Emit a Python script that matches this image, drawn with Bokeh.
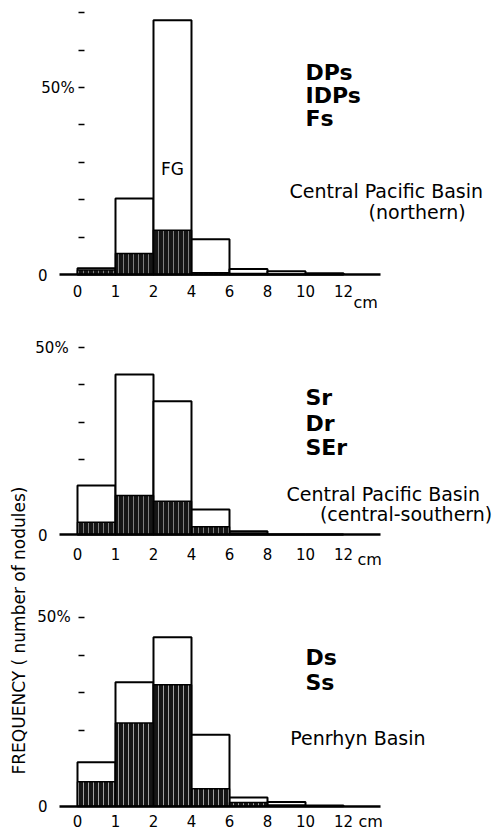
import math
from bokeh.plotting import figure
from bokeh.models import Range1d, LinearAxis, FixedTicker, Label, ColumnDataSource
from bokeh.layouts import row, column
from bokeh.embed import file_html
from bokeh.resources import INLINE

# ---- data (percent of nodules per size class) ----
edge_labels = ["0", "1", "2", "4", "6", "8", "10", "12"]
bins = ["0-1", "1-2", "2-4", "4-6", "6-8", "8-10", "10-12"]

north_total = [1.7, 20.3, 68.0, 9.4, 1.5, 0.9, 0.35]
north_dark = [1.2, 5.6, 11.8, 0.5, 0.3, 0.1, 0.0]

cs_total = [13.1, 42.8, 35.6, 6.7, 0.9, 0.0, 0.0]
cs_dark = [3.3, 10.4, 8.9, 2.1, 0.4, 0.0, 0.0]

pen_total = [11.6, 32.8, 44.7, 18.9, 2.3, 1.1, 0.2]
pen_dark = [6.5, 22.0, 32.1, 4.6, 1.0, 0.3, 0.0]

north_types = ["DPs", "IDPs", "Fs"]
cs_types = ["Sr", "Dr", "SEr"]
pen_types = ["Ds", "Ss"]

FONT = "DejaVu Sans"
W = 465
AXIS_SPAN = (-0.474, 7.974)      # extent of the base line, in size-class units
XR = (-1.2368, 11.0)


def panel(total, dark, height, yr, yticks, std50, xstd,
          types, type_y, region, region_xy, sub, sub_xy, cm_off, hatch_alpha):
    p = figure(width=W, height=height, output_backend="svg", toolbar_location=None,
               x_range=Range1d(*XR), y_range=Range1d(*yr), min_border=0)
    p.outline_line_color = None
    p.xgrid.visible = False
    p.ygrid.visible = False

    idx = list(range(len(bins)))
    src = ColumnDataSource(dict(left=idx, right=[i + 1 for i in idx],
                                total=total, dark=dark, bin=bins))
    p.quad(left="left", right="right", bottom=0, top="total", source=src,
           fill_color="white", line_color="black", line_width=2)
    p.quad(left="left", right="right", bottom=0, top="dark", source=src,
           fill_color="#151515", line_color="black", line_width=1.5,
           hatch_pattern="|", hatch_color="white", hatch_alpha=hatch_alpha,
           hatch_scale=5, hatch_weight=1)

    # x axis (base line)
    xa = p.xaxis[0]
    xa.fixed_location = 0
    xa.bounds = AXIS_SPAN
    xa.ticker = FixedTicker(ticks=list(range(len(edge_labels))))
    xa.major_label_overrides = {i: s for i, s in enumerate(edge_labels)}
    xa.axis_line_width = 2.5
    xa.axis_line_color = "black"
    xa.major_tick_line_color = None
    xa.minor_tick_line_color = None
    xa.major_label_standoff = xstd
    xa.major_label_text_font = FONT
    xa.major_label_text_font_size = "15px"
    xa.major_label_text_color = "black"

    # y axis: only the "0" label at the base line start
    ya = p.yaxis[0]
    ya.fixed_location = AXIS_SPAN[0]
    ya.ticker = FixedTicker(ticks=[0])
    ya.major_label_overrides = {0: "0"}
    ya.axis_line_color = None
    ya.major_tick_line_color = None
    ya.minor_tick_line_color = None
    ya.major_label_standoff = 6
    ya.major_label_text_font = FONT
    ya.major_label_text_font_size = "15px"
    ya.major_label_text_color = "black"

    # tick marks next to the first bar
    ya2 = LinearAxis(fixed_location=0.03, ticker=FixedTicker(ticks=yticks),
                     major_label_overrides={t: ("50%" if t == 50 else "") for t in yticks})
    ya2.axis_line_color = None
    ya2.minor_tick_line_color = None
    ya2.major_tick_in = 6
    ya2.major_tick_out = 0
    ya2.major_tick_line_width = 1.5
    ya2.major_tick_line_color = "black"
    ya2.major_label_standoff = std50
    ya2.major_label_text_font = FONT
    ya2.major_label_text_font_size = "15px"
    ya2.major_label_text_color = "black"
    p.add_layout(ya2, "left")

    for t, y in zip(types, type_y):
        p.add_layout(Label(x=6.0, y=y, text=t, text_font=FONT, text_font_size="22px",
                           text_font_style="bold", text_color="black",
                           text_baseline="alphabetic"))
    p.add_layout(Label(x=region_xy[0], y=region_xy[1], text=region, text_font=FONT,
                       text_font_size="19px", text_color="black",
                       text_baseline="alphabetic"))
    if sub:
        p.add_layout(Label(x=sub_xy[0], y=sub_xy[1], text=sub, text_font=FONT,
                           text_font_size="19px", text_color="black",
                           text_baseline="alphabetic"))
    p.add_layout(Label(x=len(edge_labels) - 1, y=0, text="cm", x_offset=cm_off[0],
                       y_offset=cm_off[1], text_font=FONT, text_font_size="16px",
                       text_color="black", text_baseline="alphabetic"))
    return p


# figure 1: page rows 0-318, base line at row 274, 3.74 px per %
p1 = panel(north_total, north_dark, 318, (-44 / 3.74, 274 / 3.74),
           [10, 20, 30, 40, 50, 60, 70], 4, 4,
           north_types, [54.0, 47.9, 41.7],
           "Central Pacific Basin", (5.58, 22.2), "(northern)", (7.66, 16.8),
           (10, -28), 0.45)
p1.add_layout(Label(x=2.5, y=28.3, text="FG", text_font=FONT, text_font_size="17px",
                    text_color="black", text_align="center", text_baseline="middle"))

# figure 2: page rows 318-572, base line at row 534
p2 = panel(cs_total, cs_dark, 254, (-38 / 3.74, 216 / 3.74),
           [20, 30, 40, 50], 10, 7,
           cs_types, [36.7, 29.8, 23.3],
           "Central Pacific Basin", (5.5, 10.7), "(central-southern)", (6.38, 5.4),
           (14, -25), 0.45)

# figure 3: page rows 572-832, base line at row 805.7, 3.78 px per %
p3 = panel(pen_total, pen_dark, 260, (-26.3 / 3.78, 233.7 / 3.78),
           [20, 30, 40, 50], 8, 3,
           pen_types, [39.4, 32.8],
           "Penrhyn Basin", (5.6, 18.1), None, None,
           (15, -15), 0.6)

lab = figure(width=30, height=832, output_backend="svg", toolbar_location=None,
             x_range=Range1d(0, 1), y_range=Range1d(0, 1),
             min_border=0, x_axis_location=None, y_axis_location=None)
lab.outline_line_color = None
lab.xgrid.visible = False
lab.ygrid.visible = False
lab.add_layout(Label(x=18, y=832 - 630, x_units="screen", y_units="screen",
                     text="FREQUENCY ( number of nodules)", angle=math.pi / 2,
                     text_align="center", text_baseline="middle", text_color="black",
                     text_font=FONT, text_font_size="17px"))

layout = row(lab, column(p1, p2, p3, spacing=0), spacing=0)
open("out.html", "w").write(file_html(layout, INLINE))
